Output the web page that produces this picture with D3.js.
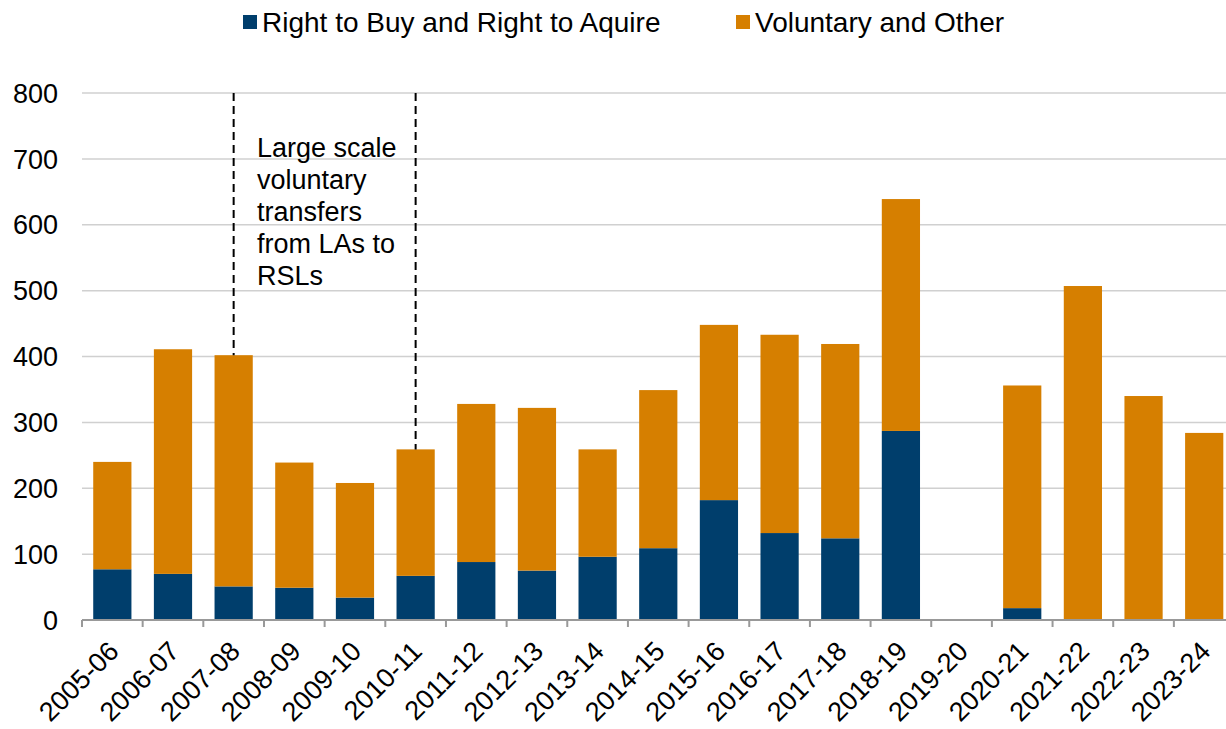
<!DOCTYPE html>
<html><head><meta charset="utf-8">
<script src="https://cdn.jsdelivr.net/npm/d3@7/dist/d3.min.js"></script>
<style>body{margin:0;background:#fff;}svg{display:block;font-family:"Liberation Sans",Arial,sans-serif;}</style>
</head><body>
<svg id="c" width="1226" height="729"></svg>
<script>
const categories = ["2005-06","2006-07","2007-08","2008-09","2009-10","2010-11","2011-12","2012-13","2013-14","2014-15","2015-16","2016-17","2017-18","2018-19","2019-20","2020-21","2021-22","2022-23","2023-24"];
const rightToBuy = [77,70,51,49,34,67,88,75,96,109,182,132,124,287,0,18,0,0,0];
const totals     = [240,411,402,239,208,259,328,322,259,349,448,433,419,639,0,356,507,340,284];
const voluntary  = totals.map((t,i)=>t-rightToBuy[i]);
const seriesNames = ["Right to Buy and Right to Aquire","Voluntary and Other"];
const seriesColors = ["#003e6c","#d67f00"];
const yTicks = [0,100,200,300,400,500,600,700,800];
const annotationLines = ["Large scale","voluntary","transfers","from LAs to","RSLs"];
const annotationFrom = "2007-08", annotationTo = "2010-11";

const svg = d3.select("#c");
const x = d3.scaleBand().domain(categories).range([82, 82+19*60.66]).paddingInner(0.37).paddingOuter(0.185);
const xb = d3.scaleBand().domain(categories).range([82, 82+19*60.66]);
const y = d3.scaleLinear().domain([0,800]).range([620,93]);

// gridlines
svg.append("g").selectAll("line").data(yTicks.filter(d=>d>0)).join("line")
  .attr("x1",82).attr("x2",1226).attr("y1",d=>y(d)).attr("y2",d=>y(d))
  .attr("stroke","#d0d0d0").attr("stroke-width",1.5);

// y labels
svg.append("g").selectAll("text").data(yTicks).join("text")
  .attr("x",58).attr("y",d=>y(d)).attr("dy","0.36em").attr("text-anchor","end")
  .attr("font-size",27).attr("fill","#000").text(d=>d);

// bars
const stackData = categories.map((c,i)=>({cat:c, rtb:rightToBuy[i], vol:voluntary[i]}));
const stack = d3.stack().keys(["rtb","vol"])(stackData);
svg.append("g").selectAll("g").data(stack).join("g").attr("fill",(d,i)=>seriesColors[i])
  .selectAll("rect").data(d=>d).join("rect")
  .attr("x",d=>x(d.data.cat)).attr("width",x.bandwidth())
  .attr("y",d=>y(d[1])).attr("height",d=>Math.max(0,y(d[0])-y(d[1])));

// x axis
svg.append("line").attr("x1",82).attr("x2",1226).attr("y1",620).attr("y2",620).attr("stroke","#999").attr("stroke-width",2);
const bounds = categories.map(c=>xb(c));
svg.append("g").selectAll("line").data(bounds).join("line")
  .attr("x1",d=>d).attr("x2",d=>d).attr("y1",620).attr("y2",627).attr("stroke","#999").attr("stroke-width",2);

svg.append("g").selectAll("text").data(categories).join("text")
  .attr("transform",d=>`translate(${xb(d)+xb.bandwidth()/2+8},${653}) rotate(-45)`)
  .attr("text-anchor","end").attr("font-size",27).attr("fill","#000").text(d=>d);

// annotation dashed lines
[annotationFrom, annotationTo].forEach(c=>{
  const i = categories.indexOf(c);
  const cx = xb(c)+xb.bandwidth()/2;
  svg.append("line").attr("x1",cx).attr("x2",cx).attr("y1",y(800)).attr("y2",y(totals[i]))
    .attr("stroke","#000").attr("stroke-width",2).attr("stroke-dasharray","8,5");
});
svg.append("text").attr("font-size",27).attr("fill","#000")
  .selectAll("tspan").data(annotationLines).join("tspan")
  .attr("x",257).attr("y",(d,i)=>157+i*32).text(d=>d);

// legend
const legX = [243, 736];
seriesNames.forEach((n,i)=>{
  svg.append("rect").attr("x",legX[i]).attr("y",15).attr("width",14).attr("height",14).attr("fill",seriesColors[i]);
  svg.append("text").attr("x",legX[i]+19).attr("y",32).attr("font-size",28).attr("fill","#000").text(n);
});
</script>
</body></html>
